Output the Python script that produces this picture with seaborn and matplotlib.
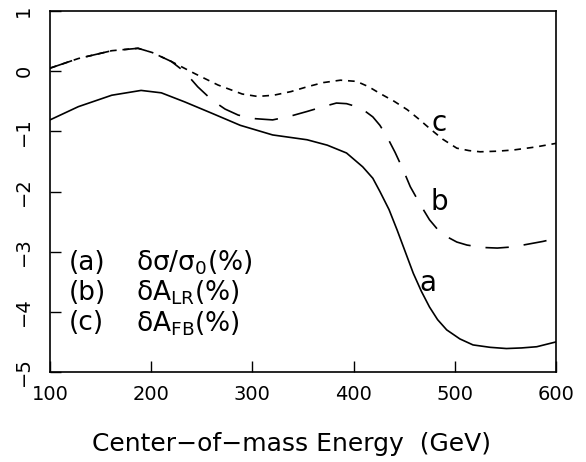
import matplotlib
matplotlib.use("Agg")
import matplotlib.pyplot as plt
import seaborn as sns
import pandas as pd

sns.set_theme(style="white")
plt.rcParams['font.family'] = ['DejaVu Sans']
plt.rcParams['mathtext.default'] = 'regular'
plt.rcParams['text.color'] = 'black'

energy_a = [100,128,161,190,210,233,260,288,320,354,374,393,409,419,426,435,443,451,459,467,475,483,492,505,518,535,551,566,581,600]
delta_a = [-0.81,-0.59,-0.40,-0.32,-0.36,-0.51,-0.70,-0.90,-1.06,-1.14,-1.23,-1.36,-1.59,-1.78,-2.0,-2.3,-2.64,-3.0,-3.36,-3.66,-3.92,-4.13,-4.30,-4.45,-4.55,-4.59,-4.61,-4.60,-4.58,-4.50]

energy_b = [100,128,161,187,201,220,233,246,260,273,286,303,320,337,354,370,383,393,403,411,419,426,433,441,449,456,466,475,483,492,502,512,527,542,558,574,587,600]
delta_b = [0.05,0.21,0.34,0.38,0.31,0.16,-0.01,-0.26,-0.48,-0.63,-0.73,-0.79,-0.81,-0.75,-0.67,-0.59,-0.53,-0.54,-0.59,-0.66,-0.76,-0.9,-1.09,-1.35,-1.64,-1.92,-2.22,-2.47,-2.63,-2.75,-2.84,-2.89,-2.93,-2.94,-2.92,-2.87,-2.83,-2.78]

energy_c = [100,128,161,187,201,220,243,266,290,305,321,338,354,370,387,403,415,426,440,453,464,475,488,502,514,525,542,558,580,600]
delta_c = [0.05,0.21,0.34,0.38,0.31,0.16,-0.04,-0.23,-0.38,-0.42,-0.40,-0.34,-0.26,-0.19,-0.15,-0.17,-0.26,-0.37,-0.50,-0.64,-0.79,-0.95,-1.13,-1.28,-1.32,-1.34,-1.33,-1.31,-1.26,-1.20]

curve_labels = ["a", "b", "c"]
legend_rows = [("(a)", r"$\delta\sigma/\sigma_0$(%)"), ("(b)", r"$\delta A_{LR}$(%)"), ("(c)", r"$\delta A_{FB}$(%)")]
xticks = [100, 200, 300, 400, 500, 600]
yticks = [-5, -4, -3, -2, -1, 0, 1]

fig = plt.figure(figsize=(5.86, 4.62), dpi=100)
ax = fig.add_axes([50/586, 1-372/462, 506/586, 361/462])

df_a = pd.DataFrame({"E": energy_a, "d": delta_a})
df_b = pd.DataFrame({"E": energy_b, "d": delta_b})
df_c = pd.DataFrame({"E": energy_c, "d": delta_c})

sns.lineplot(data=df_a, x="E", y="d", ax=ax, color="black", lw=1.2, estimator=None, sort=False)
sns.lineplot(data=df_b, x="E", y="d", ax=ax, color="black", lw=1.2, estimator=None, sort=False)
ax.lines[-1].set_dashes([14, 9])
sns.lineplot(data=df_c, x="E", y="d", ax=ax, color="black", lw=1.2, estimator=None, sort=False)
ax.lines[-1].set_dashes([4, 3.5])

ax.set_xlim(100, 600)
ax.set_ylim(-5, 1)
ax.set_xticks(xticks)
ax.set_yticks(yticks)
ax.set_xticklabels([str(t) for t in xticks], fontsize=14, color='black')
ax.set_yticklabels([str(t).replace('-', '\u2212') for t in yticks], fontsize=14, rotation=90, va='center', color='black')
ax.tick_params(axis='both', direction='in', length=8, width=1, colors='black', bottom=True, left=True, top=False, right=False, pad=9)
ax.tick_params(axis='y', pad=12)
for s in ax.spines.values():
    s.set_color('black')
    s.set_linewidth(1.2)
ax.set_xlabel("Center\u2212of\u2212mass Energy  (GeV)", fontsize=18, color='black')
ax.xaxis.set_label_coords((291 - 50) / 506, -0.165)
ax.set_ylabel("")

ax.text(485, -0.86, curve_labels[2], fontsize=20, ha='center', va='center')
ax.text(485, -2.17, curve_labels[1], fontsize=20, ha='center', va='center')
ax.text(473, -3.52, curve_labels[0], fontsize=20, ha='center', va='center')

for i, (lab, txt) in enumerate(legend_rows):
    y = -3.19 - 0.5 * i
    ax.text(119, y, lab, fontsize=19, ha='left', va='center')
    ax.text(185, y, txt, fontsize=19, ha='left', va='center')

fig.savefig("out.png", dpi=100)
